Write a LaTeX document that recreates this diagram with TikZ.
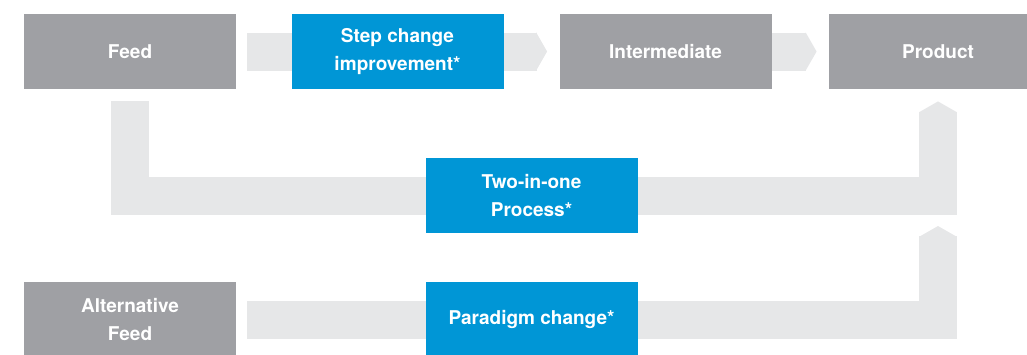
\documentclass[tikz,border=0pt]{standalone}
\usepackage{fontspec}
\setmainfont{TeX Gyre Heros}
\usepackage{tikz}
\usetikzlibrary{calc}
\usetikzlibrary{arrows.meta}
\usetikzlibrary{backgrounds}
\definecolor{boxgray}{HTML}{9FA0A4}
\definecolor{boxblue}{HTML}{0096D6}
\definecolor{bandgray}{HTML}{E6E7E8}
\tikzstyle{stage} = [rectangle, fill=boxgray, text=white, minimum width=106pt, minimum height=37.5pt, inner sep=0pt, align=center, font=\fontsize{9.5}{14}\selectfont\bfseries]
\tikzstyle{change} = [stage, fill=boxblue]
\tikzstyle{band} = [draw=bandgray, line width=19pt, line join=miter, -{Triangle[length=5.5pt, width=0pt 1]}]

\begin{document}
\begin{tikzpicture}
\useasboundingbox (0,0) rectangle (513.5pt,-177pt);
\clip (0,0) rectangle (513.5pt,-177pt);
\node [stage] (feed) at (65pt, -25.75pt) {Feed};
\node [change] (step) at (198.75pt, -25.75pt) {Step change\\improvement*};
\node [stage] (inter) at (332.75pt, -25.75pt) {Intermediate};
\node [stage, minimum width=109pt] (product) at (469pt, -25.75pt) {Product};
\node [change] (twoinone) at (265.75pt, -97.75pt) {Two-in-one\\Process*};
\node [stage] (alt) at (65pt, -159.75pt) {Alternative\\Feed};
\node [change] (paradigm) at (265.75pt, -159.75pt) {Paradigm change*};
\coordinate (altend) at ($(twoinone.center -| product.south) + (0,-15.25pt)$);
\begin{pgfonlayer}{background}
\draw [band] ([xshift=5.5pt]feed.east) to ([xshift=-6pt]inter.west);
\draw [band] (inter.east) to ([xshift=-6pt]product.west);
\draw [band] ([yshift=-6pt]feed.south) |- (twoinone.center) -| ([yshift=-6pt]product.south);
\draw [band] ([xshift=5.5pt]alt.east) -| (altend);
\end{pgfonlayer}
\end{tikzpicture}
\end{document}
